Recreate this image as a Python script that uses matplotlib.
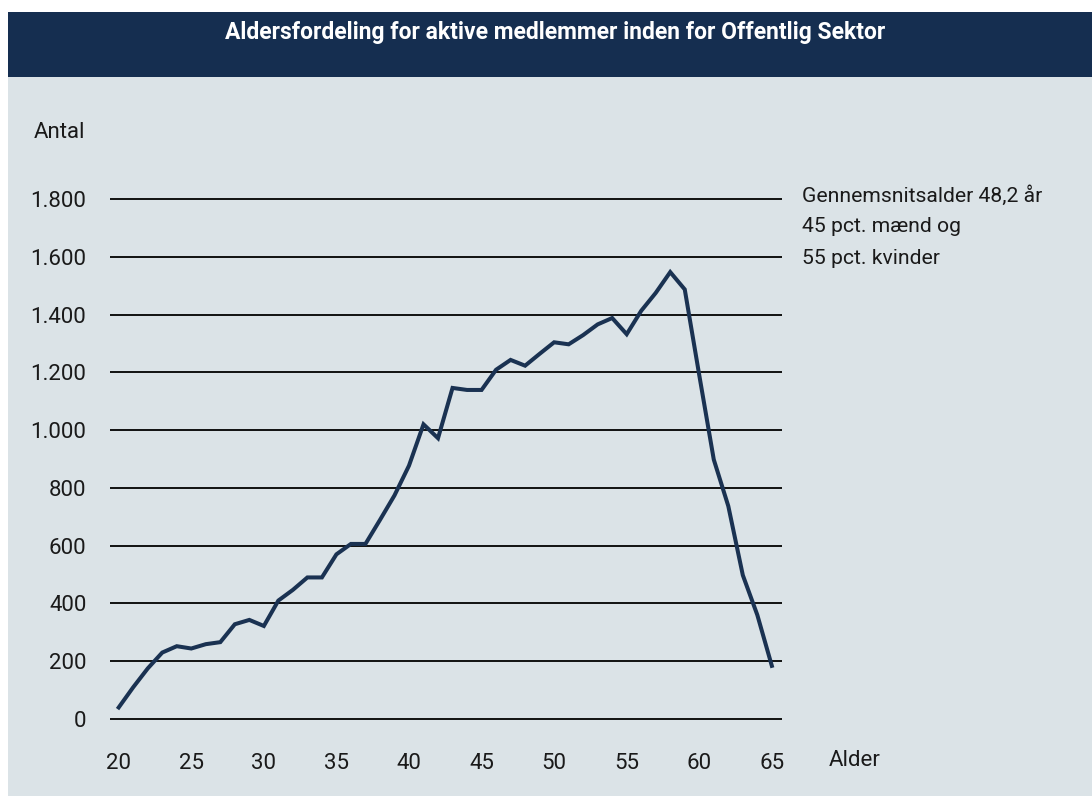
import matplotlib
matplotlib.use("Agg")
import matplotlib.pyplot as plt
from matplotlib.patches import Rectangle

# ---- data ----
ages = list(range(20, 66))
antal = [40, 110, 175, 230, 252, 244, 259, 266, 328, 343,
         322, 410, 447, 490, 490, 570, 606, 606, 689, 774,
         877, 1020, 972, 1146, 1139, 1139, 1209, 1243, 1223, 1264,
         1304, 1297, 1329, 1366, 1388, 1332, 1413, 1475, 1547, 1487,
         1190, 898, 737, 498, 360, 184]
y_ticks = [0, 200, 400, 600, 800, 1000, 1200, 1400, 1600, 1800]
y_tick_labels = ["0", "200", "400", "600", "800", "1.000", "1.200", "1.400", "1.600", "1.800"]
x_ticks = [20, 25, 30, 35, 40, 45, 50, 55, 60, 65]
title = "Aldersfordeling for aktive medlemmer inden for Offentlig Sektor"
note_lines = ["Gennemsnitsalder 48,2 år", "45 pct. mænd og", "55 pct. kvinder"]

# ---- style ----
W, H = 1092, 796
BAND = "#152e50"
BG = "#dbe3e7"
LINE = "#1a3252"
FONT = "Roboto"
FS = 16
TXT = "#1a1a1a"

fig = plt.figure(figsize=(W / 100, H / 100), dpi=100)
fig.patch.set_facecolor("white")

# background panel and title band
fig.patches.append(Rectangle((8 / W, 0), 1 - 8 / W, 1 - 77 / H, transform=fig.transFigure,
                             facecolor=BG, edgecolor="none", zorder=-10))
fig.patches.append(Rectangle((8 / W, 1 - 77 / H), 1 - 8 / W, 65 / H, transform=fig.transFigure,
                             facecolor=BAND, edgecolor="none", zorder=-10))
fig.text(555 / W, 1 - 32.5 / H, title, color="white", fontsize=16.5, fontweight="bold",
         family=FONT, ha="center", va="center")

# axes: y from -20..1820 mapped so 0 -> 719px and 1800 -> 199px
ppu = (719 - 199) / 1800.0
ylo, yhi = -20, 1820
ax_bottom_px = 719 + (0 - ylo) * ppu
ax_h_px = (yhi - ylo) * ppu
ax = fig.add_axes([110 / W, (H - ax_bottom_px) / H, (782 - 110) / W, ax_h_px / H])
ax.set_facecolor("none")
ax.set_xlim(19.4, 65.7)
ax.set_ylim(ylo, yhi)

for yv in y_ticks:
    ax.axhline(yv, color="black", lw=1.3, zorder=1)

ax.plot(ages, antal, color=LINE, lw=2.9, solid_joinstyle="miter", zorder=3)

ax.set_yticks(y_ticks)
ax.set_yticklabels(y_tick_labels)
ax.set_xticks(x_ticks)
ax.set_xticklabels([str(v) for v in x_ticks])
ax.tick_params(axis="both", length=0, labelsize=FS, colors=TXT)
ax.tick_params(axis="y", pad=17)
ax.tick_params(axis="x", pad=20)
for lab in ax.get_xticklabels() + ax.get_yticklabels():
    lab.set_family(FONT)
for s in ax.spines.values():
    s.set_visible(False)

fig.text(34 / W, 1 - 133 / H, "Antal", fontsize=FS, family=FONT, color=TXT,
         ha="left", va="center")
fig.text(829 / W, 1 - 761 / H, "Alder", fontsize=FS, family=FONT, color=TXT,
         ha="left", va="center")
for i, t in enumerate(note_lines):
    fig.text(802 / W, 1 - (196 + 31 * i) / H, t, fontsize=15.2, family=FONT, color=TXT,
             ha="left", va="center")

fig.savefig("out.png", dpi=100, facecolor=fig.get_facecolor())
